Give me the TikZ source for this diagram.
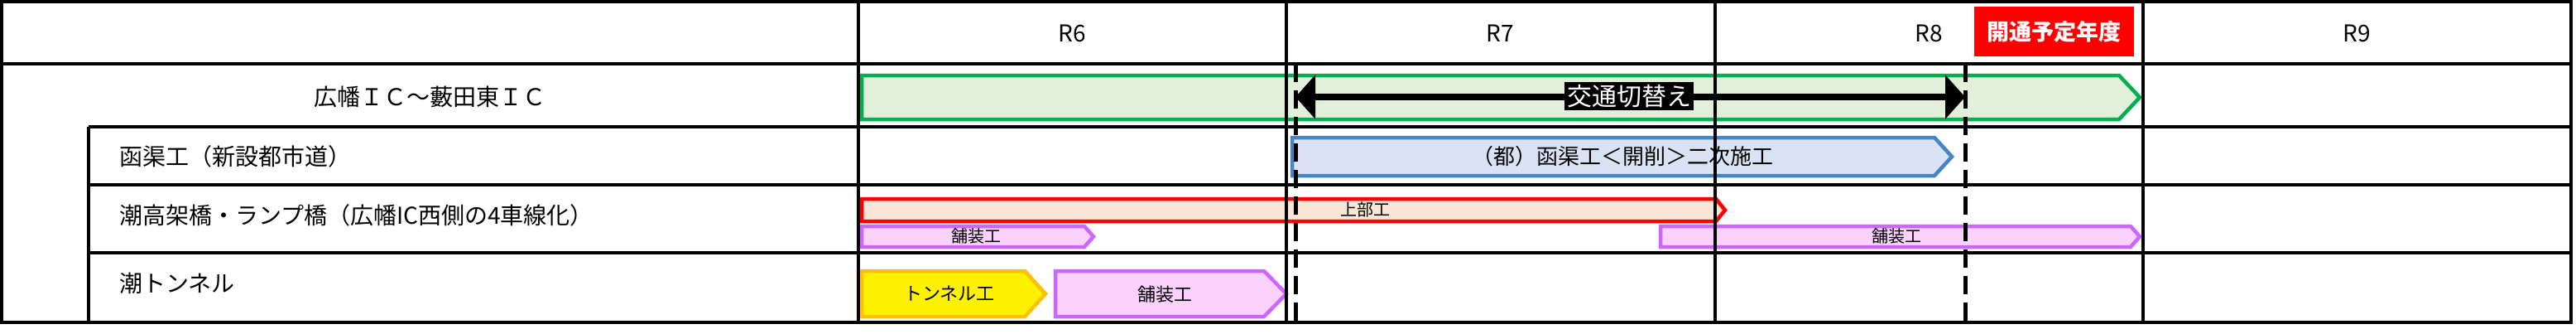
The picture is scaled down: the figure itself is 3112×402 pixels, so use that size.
\documentclass[tikz,border=0pt]{standalone}
\usepackage{fontspec}
\setmainfont{Noto Sans CJK JP}
\usetikzlibrary{arrows.meta}
\definecolor{gfill}{HTML}{E2EFDA}\definecolor{gline}{HTML}{00B050}
\definecolor{bfill}{HTML}{DAE3F3}\definecolor{bline}{HTML}{4585C5}
\definecolor{rfill}{HTML}{FBE5D6}
\definecolor{pfill}{HTML}{FAD2FC}\definecolor{pline}{HTML}{CC66FF}
\definecolor{yline}{HTML}{FFC000}
\tikzset{grid/.style={line width=4pt},
 bar/.style={line width=4.5pt,line join=miter},
 lbl/.style={inner sep=0pt,font=\fontsize{28}{30}\selectfont},
 sm/.style={inner sep=0pt,font=\fontsize{20}{22}\selectfont},
 vdash/.style={line width=5pt,dash pattern=on 22pt off 10pt}}
\begin{document}
\begin{tikzpicture}[x=1pt,y=-1pt]
\useasboundingbox (0,0) rectangle (3112,402);
% bars
\draw[bar,gline,fill=gfill] (1041,91) -- (2560,91) -- (2585,117.5) -- (2560,144) -- (1041,144) -- cycle;
\draw[bar,bline,fill=bfill] (1561,166) -- (2337,166) -- (2358,189) -- (2337,212) -- (1561,212) -- cycle;
\draw[bar,red,fill=rfill] (1041,240) -- (2073,240) -- (2084,253.5) -- (2073,267) -- (1041,267) -- cycle;
\draw[bar,pline,fill=pfill] (1041,273) -- (1310,273) -- (1321,285.5) -- (1310,298) -- (1041,298) -- cycle;
\draw[bar,pline,fill=pfill] (2006,273) -- (2574,273) -- (2585,285.5) -- (2574,298) -- (2006,298) -- cycle;
\draw[bar,yline,fill=yellow] (1041,327) -- (1238,327) -- (1263,354.5) -- (1238,382) -- (1041,382) -- cycle;
\draw[bar,pline,fill=pfill] (1275,327) -- (1527,327) -- (1554,354.5) -- (1527,382) -- (1275,382) -- cycle;
% grid
\draw[grid] (2,2) rectangle (3106,389);
\draw[grid] (2,77) -- (3106,77);
\draw[grid] (107,153) -- (3106,153);
\draw[grid] (107,223) -- (3106,223);
\draw[grid] (107,305) -- (3106,305);
\draw[grid] (107,153) -- (107,389);
\foreach \x in {1037,1554,2072,2589} \draw[grid] (\x,2) -- (\x,389);
% dashed lines
\coordinate (d1t) at (1565,77); \coordinate (d1b) at (1565,389);
\coordinate (d2t) at (2374,77); \coordinate (d2b) at (2374,389);
\draw[vdash] (d1t) -- (d1b);
\draw[vdash] (d2t) -- (d2b);
\coordinate (a1) at (1565,117); \coordinate (a2) at (2374,117);
\draw[line width=8pt,{Triangle[length=24pt,width=52pt]}-{Triangle[length=24pt,width=52pt]}] (a1) -- (a2);
\node[fill=black,text=white,inner sep=3pt,font=\fontsize{30}{32}\selectfont] (sw) at (1968,116) {交通切替え};
% headers
\node[lbl] (r6) at (1295,40) {R6};
\node[lbl] (r7) at (1812,40) {R7};
\node[lbl] (r8) at (2330,40) {R8};
\node[lbl] (r9) at (2847,40) {R9};
\node[fill=red,text=white,minimum width=193pt,minimum height=60pt,inner sep=0pt,font=\bfseries\fontsize{27}{29}\selectfont] (open) at (2481.5,38) {開通予定年度};
% left labels
\node[lbl] (t0) at (519,117) {広幡ＩＣ～藪田東ＩＣ};
\node[lbl,anchor=west] (t1) at (144,189) {函渠工（新設都市道）};
\node[lbl,anchor=west] (t2) at (144,260) {潮高架橋・ランプ橋（広幡IC西側の4車線化）};
\node[lbl,anchor=west] (t3) at (144,342) {潮トンネル};
% bar labels
\node[inner sep=0pt,font=\fontsize{26}{28}\selectfont] (b1) at (1960,189) {（都）函渠工＜開削＞二次施工};
\node[sm] (b2) at (1649,253) {上部工};
\node[sm] (b3) at (1179,285) {舗装工};
\node[sm] (b4) at (2291,285) {舗装工};
\node[inner sep=0pt,font=\fontsize{22}{24}\selectfont] (b5) at (1147,354) {トンネル工};
\node[inner sep=0pt,font=\fontsize{22}{24}\selectfont] (b6) at (1407,355) {舗装工};
\end{tikzpicture}
\end{document}
